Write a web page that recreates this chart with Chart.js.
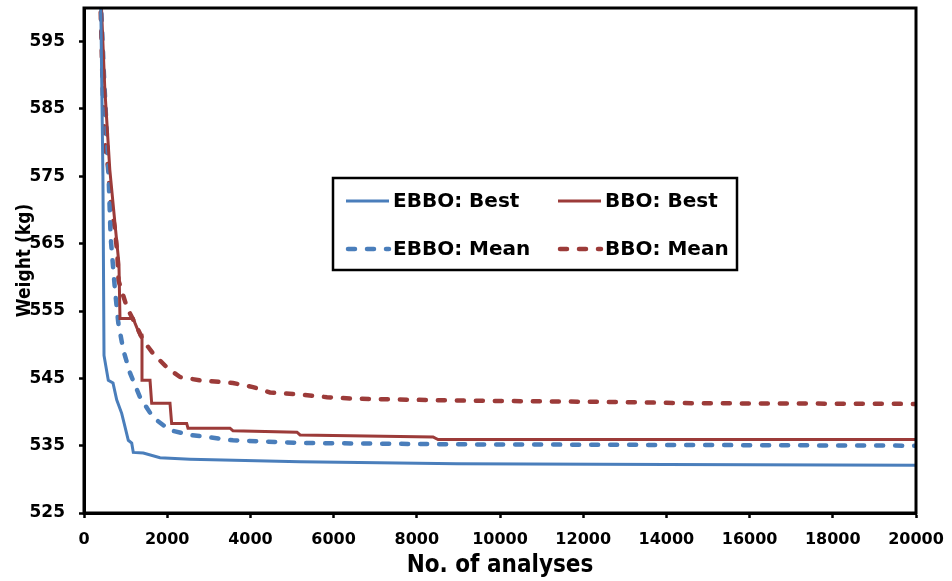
<!DOCTYPE html>
<html>
<head>
<meta charset="utf-8">
<script src="https://cdn.jsdelivr.net/npm/chart.js@4.4.1/dist/chart.umd.min.js"></script>
<style>
  html, body { margin: 0; padding: 0; background: #ffffff; }
  #wrap { width: 952px; height: 581px; }
</style>
</head>
<body>
<div id="wrap"><canvas id="c" width="952" height="581"></canvas></div>
<script>
// ---- data ----
const seriesNames = ['EBBO: Best', 'BBO: Best', 'EBBO: Mean', 'BBO: Mean'];

const xTicks = [0, 2000, 4000, 6000, 8000, 10000, 12000, 14000, 16000, 18000, 20000];
const yTicks = [525, 535, 545, 555, 565, 575, 585, 595];

const ebboBestX = [400, 455, 481, 584, 697, 786, 906, 986, 1065, 1147, 1185, 1426, 1827, 2548, 5193, 8967, 14000, 20000];
const ebboBestY = [602, 575, 548.4, 544.7, 544.3, 541.8, 539.8, 537.8, 535.8, 535.4, 534.0, 533.9, 533.2, 533.0, 532.6, 532.3, 532.2, 532.1];

const ebboMeanX = [400, 480, 577, 640, 745, 825, 945, 1106, 1346, 1659, 2067, 2548, 3582, 5193, 8967, 20000];
const ebboMeanY = [602, 590, 577.8, 566, 558.1, 553.2, 549.2, 545.8, 542.2, 539.2, 537.3, 536.6, 535.8, 535.4, 535.2, 535.0];

const bboBestX = [420, 500, 620, 760, 840, 865, 1185, 1226, 1346, 1394, 1394, 1587, 1627, 2067, 2107, 2468, 2500, 3510, 3582, 5120, 5193, 8390, 8510, 20000];
const bboBestY = [600, 588, 576, 567, 562, 553.9, 553.9, 553.2, 551.4, 551.4, 544.7, 544.7, 541.3, 541.3, 538.3, 538.3, 537.6, 537.6, 537.2, 537.0, 536.6, 536.3, 535.9, 535.9];

const bboMeanX = [380, 401, 457, 498, 577, 618, 656, 738, 801, 830, 1034, 1226, 1418, 1659, 1995, 2308, 2789, 3582, 4063, 4471, 5193, 5842, 6395, 7188, 8967, 12573, 14737, 20000];
const bboMeanY = [605, 599.6, 586.2, 580.3, 576.3, 572.9, 570.4, 567.4, 563.5, 559.5, 555.5, 553.2, 550.7, 548.7, 546.6, 545.2, 544.7, 544.3, 543.7, 542.9, 542.6, 542.2, 542.0, 541.9, 541.7, 541.5, 541.3, 541.2];

// ---- styling ----
const BLUE = '#4a7ebb';
const RED = '#9c3b39';
const DASH = [7, 12];
const FONT = "'DejaVu Sans', sans-serif";
const FONT_C = "'DejaVu Sans Condensed', 'DejaVu Sans', sans-serif";

function pts(xs, ys) { return xs.map((x, i) => ({ x: x, y: ys[i] })); }

const datasets = [
  { label: seriesNames[0], data: pts(ebboBestX, ebboBestY), borderColor: BLUE, borderWidth: 3, borderDash: [] },
  { label: seriesNames[1], data: pts(bboBestX, bboBestY), borderColor: RED, borderWidth: 3, borderDash: [] },
  { label: seriesNames[2], data: pts(ebboMeanX, ebboMeanY), borderColor: BLUE, borderWidth: 4.5, borderDash: DASH, borderCapStyle: 'round' },
  { label: seriesNames[3], data: pts(bboMeanX, bboMeanY), borderColor: RED, borderWidth: 4.5, borderDash: DASH, borderCapStyle: 'round' }
].map(d => Object.assign({ pointRadius: 0, tension: 0, fill: false }, d));

// frame + in-plot legend
const framePlugin = {
  id: 'frameLegend',
  afterDatasetsDraw(chart) {
    const ctx = chart.ctx;
    const a = chart.chartArea;
    ctx.save();
    ctx.strokeStyle = '#000';
    ctx.lineWidth = 3;
    ctx.strokeRect(a.left, a.top, a.right - a.left, a.bottom - a.top);

    // legend box
    const bx = a.left + 249, by = a.top + 170, bw = 404, bh = 92;
    ctx.fillStyle = '#fff';
    ctx.fillRect(bx, by, bw, bh);
    ctx.lineWidth = 2.5;
    ctx.strokeStyle = '#000';
    ctx.strokeRect(bx, by, bw, bh);

    const cols = [bx + 13, bx + 225];
    const rows = [by + 23, by + 71];
    const order = [[0, 0, 0], [1, 1, 0], [2, 0, 1], [3, 1, 1]];
    ctx.font = "bold 20px " + FONT;
    ctx.textBaseline = 'middle';
    ctx.textAlign = 'left';
    order.forEach(([di, c, r]) => {
      const ds = chart.data.datasets[di];
      const x0 = cols[c], y0 = rows[r];
      ctx.beginPath();
      ctx.strokeStyle = ds.borderColor;
      ctx.lineWidth = ds.borderWidth;
      ctx.lineCap = ds.borderDash.length ? 'round' : 'butt';
      ctx.setLineDash(ds.borderDash);
      ctx.moveTo(x0 + (ds.borderDash.length ? 2 : 0), y0);
      ctx.lineTo(x0 + 43, y0);
      ctx.stroke();
      ctx.setLineDash([]);
      ctx.fillStyle = '#000';
      ctx.fillText(ds.label, x0 + 47, y0 + 1);
    });
    ctx.restore();
  }
};

function zeroPad(s) { s.paddingTop = 0; s.paddingBottom = 0; s.paddingLeft = 0; s.paddingRight = 0; }

new Chart(document.getElementById('c'), {
  type: 'line',
  data: { datasets: datasets },
  options: {
    responsive: false,
    animation: false,
    events: [],
    layout: { padding: { left: 0, right: 36, top: 8, bottom: 0 } },
    plugins: { legend: { display: false }, tooltip: { enabled: false } },
    scales: {
      x: {
        type: 'linear',
        min: 0, max: 20000,
        afterBuildTicks: s => { s.ticks = xTicks.map(v => ({ value: v })); },
        afterFit: s => { s.height = 68; zeroPad(s); },
        grid: { drawOnChartArea: false, drawTicks: true, tickLength: 5, tickColor: '#000', tickWidth: 2.5 },
        border: { display: true, color: '#000', width: 3 },
        ticks: {
          color: '#000', padding: 12, maxRotation: 0, autoSkip: false,
          font: { family: FONT, size: 16, weight: 'bold' },
          callback: v => String(v)
        },
        title: {
          display: true, text: 'No. of analyses', color: '#000',
          font: { family: FONT_C, size: 24, weight: 'bold' },
          padding: { top: 0, bottom: 1 }
        }
      },
      y: {
        type: 'linear',
        min: 525, max: 600,
        afterBuildTicks: s => { s.ticks = yTicks.map(v => ({ value: v })); },
        afterFit: s => { s.width = 84; zeroPad(s); },
        grid: { drawOnChartArea: false, drawTicks: true, tickLength: 5, tickColor: '#000', tickWidth: 2.5 },
        border: { display: true, color: '#000', width: 3 },
        ticks: {
          color: '#000', padding: 14,
          font: { family: FONT, size: 17, weight: 'bold' },
          callback: v => String(v)
        },
        title: {
          display: true, text: 'Weight (kg)', color: '#000',
          font: { family: FONT_C, size: 19, weight: 'bold' },
          padding: { top: 14, bottom: 0 }
        }
      }
    }
  },
  plugins: [framePlugin]
});
</script>
</body>
</html>
